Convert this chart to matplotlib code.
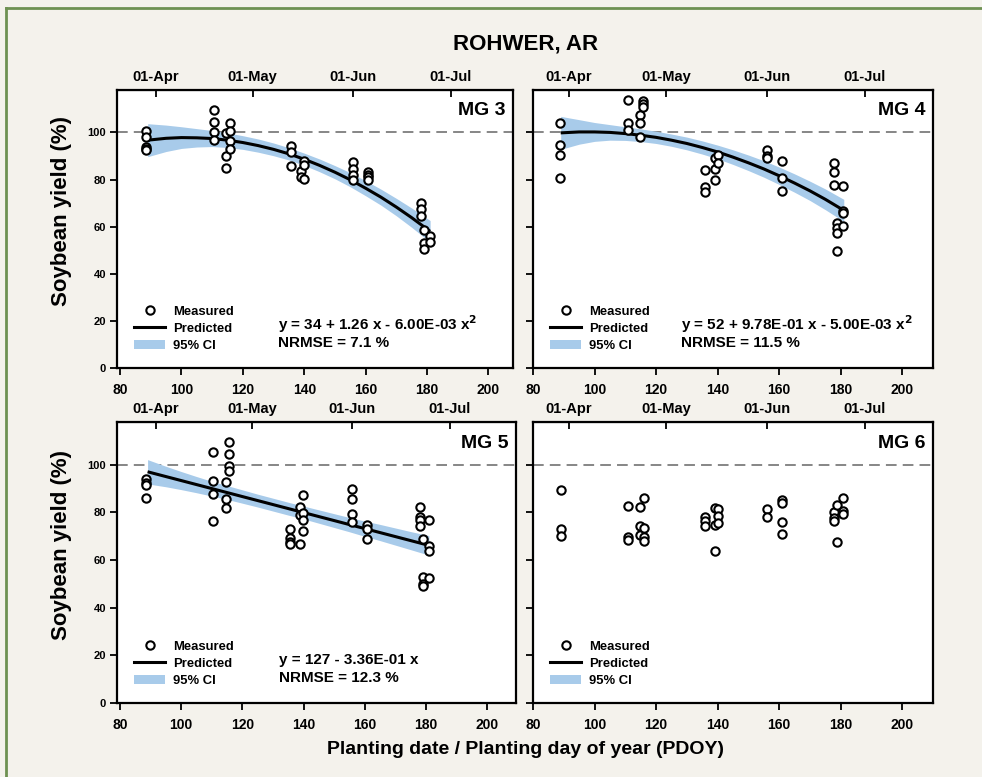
import numpy as np
import matplotlib
matplotlib.use("Agg")
import matplotlib.pyplot as plt
from matplotlib.lines import Line2D
from matplotlib.patches import Patch

plt.rcParams['font.family'] = ['Liberation Sans', 'DejaVu Sans']
plt.rcParams['font.weight'] = 'bold'
plt.rcParams['mathtext.default'] = 'bf'

# ---- données ----
date_pos = [91.7, 123.2, 156.0, 187.8]
date_labels = ['01-Apr', '01-May', '01-Jun', '01-Jul']
x_ticks = [80, 100, 120, 140, 160, 180, 200]
y_ticks = [0, 20, 40, 60, 80, 100]

# abscisses des courbes ajustées (jours)
fit_x = [89, 95, 100, 105, 110, 115, 120, 125, 130, 135, 140, 145, 150, 155, 160, 165, 170, 175, 181]

# MG 3
mg3_x = [88.4]*5 + [110.5]*4 + [114.6]*3 + [115.7]*4 + [135.6]*3 + [138.9]*2 + [139.8]*3 \
    + [156.0]*4 + [160.9]*4 + [178.0]*3 + [179.0]*3 + [180.9]*2
mg3_y = [100.8, 98.0, 94.0, 93.0, 92.6,
         109.6, 104.4, 100.1, 96.6,
         99.7, 90.0, 85.1,
         104.2, 100.4, 96.2, 93.0,
         94.3, 91.5, 85.6,
         83.5, 81.0,
         87.7, 86.0, 80.2,
         87.3, 84.4, 82.0, 79.9,
         83.2, 82.0, 80.9, 79.9,
         70.0, 67.6, 64.4,
         58.7, 53.0, 50.5,
         55.9, 53.3]
mg3_fy = [96.7, 97.5, 97.8, 97.7, 97.4, 96.7, 95.7, 94.4, 92.8, 90.9, 88.6, 86.0, 83.1, 79.9,
          76.3, 72.5, 68.3, 63.8, 58.0]
mg3_hi = [103.7, 103.1, 102.4, 101.6, 100.8, 99.8, 98.6, 97.2, 95.5, 93.5, 91.2, 88.7, 85.9,
          82.9, 79.5, 75.9, 72.0, 67.9, 62.6]
mg3_lo = [89.7, 91.9, 93.2, 93.8, 94.0, 93.6, 92.8, 91.6, 90.1, 88.3, 86.0, 83.3, 80.3, 76.9,
          73.1, 69.1, 64.6, 59.7, 53.4]

# MG 4
mg4_x = [88.9]*4 + [110.8]*3 + [114.8]*3 + [115.9]*3 + [135.9]*3 + [139.0]*3 + [140.0]*2 \
    + [156.0]*3 + [160.9]*3 + [177.7]*3 + [178.8]*4 + [180.7]*4
mg4_y = [104.0, 94.5, 90.2, 80.6,
         113.6, 104.0, 101.1,
         107.2, 104.0, 98.0,
         113.5, 112.0, 110.8,
         84.2, 76.8, 74.7,
         89.1, 84.4, 79.6,
         90.5, 87.0,
         92.4, 90.1, 89.1,
         87.7, 80.6, 75.0,
         87.0, 83.0, 77.8,
         61.5, 59.4, 57.3, 49.8,
         77.4, 66.8, 65.8, 60.1]
mg4_fy = [99.8, 100.2, 100.2, 100.0, 99.5, 98.8, 97.9, 96.7, 95.3, 93.6, 91.7, 89.5, 87.1,
          84.5, 81.6, 78.5, 75.2, 71.6, 66.9]
mg4_hi = [106.8, 105.4, 104.2, 103.3, 102.4, 101.5, 100.5, 99.3, 98.0, 96.4, 94.6, 92.6, 90.4,
          88.0, 85.3, 82.4, 79.3, 76.0, 71.6]
mg4_lo = [92.8, 95.0, 96.2, 96.7, 96.6, 96.1, 95.3, 94.1, 92.6, 90.8, 88.8, 86.4, 83.8, 81.0,
          77.9, 74.6, 71.1, 67.2, 62.2]

# MG 5
mg5_x = [88.4]*4 + [110.5]*4 + [114.6]*3 + [115.7]*4 + [135.6]*4 + [138.7]*3 + [139.8]*4 \
    + [156.0]*4 + [160.9]*3 + [178.0]*4 + [179.0]*4 + [180.9]*4
mg5_y = [94.1, 92.5, 91.5, 86.2,
         105.4, 93.2, 87.6, 76.5,
         92.7, 85.5, 81.7,
         109.4, 104.5, 99.6, 97.5,
         73.2, 69.3, 67.6, 66.9,
         82.4, 78.9, 66.8,
         87.3, 79.6, 77.0, 72.1,
         89.7, 85.5, 79.2, 76.1,
         74.6, 73.0, 69.0,
         82.4, 78.2, 77.0, 74.2,
         69.0, 52.8, 50.0, 49.3,
         77.0, 65.8, 63.8, 52.5]
mg5_fx = [89, 181]
mg5_fy = [97.1, 66.2]
mg5_hi = [102.2, 99.4, 97.2, 95.1, 93.1, 91.3, 89.5, 87.7, 86.0, 84.3, 82.7, 81.1, 79.5, 77.9,
          76.4, 75.0, 73.5, 72.0, 70.3]
mg5_lo = [92.0, 90.8, 89.6, 88.3, 86.9, 85.5, 83.9, 82.3, 80.6, 78.9, 77.3, 75.5, 73.7, 71.9,
          70.0, 68.2, 66.3, 64.4, 62.1]

# MG 6 (pas d'ajustement)
mg6_x = [89.0]*3 + [110.9]*3 + [114.9]*3 + [116.0]*4 + [135.8]*3 + [139.0]*3 + [140.0]*3 \
    + [156.1]*2 + [160.9]*4 + [177.8]*3 + [178.9]*2 + [180.8]*3
mg6_y = [89.4, 73.0, 70.0,
         82.8, 69.7, 68.3,
         82.4, 74.4, 70.7,
         85.9, 73.5, 69.7, 67.9,
         77.9, 76.3, 74.2,
         81.7, 74.9, 63.7,
         81.4, 78.6, 75.6,
         81.4, 77.9,
         85.2, 83.8, 75.8, 71.0,
         80.3, 77.5, 76.3,
         83.1, 67.6,
         85.9, 80.6, 79.2]

panels = [
    dict(name='MG 3', x=mg3_x, y=mg3_y, fx=fit_x, fy=mg3_fy, lo=mg3_lo, hi=mg3_hi,
         eq='y = 34 + 1.26 x - 6.00E-03 x$^\\mathbf{2}$', nrmse='NRMSE = 7.1 %', eqx=131.4),
    dict(name='MG 4', x=mg4_x, y=mg4_y, fx=fit_x, fy=mg4_fy, lo=mg4_lo, hi=mg4_hi,
         eq='y = 52 + 9.78E-01 x - 5.00E-03 x$^\\mathbf{2}$', nrmse='NRMSE = 11.5 %', eqx=128.1),
    dict(name='MG 5', x=mg5_x, y=mg5_y, fx=mg5_fx, fy=mg5_fy, lo=mg5_lo, hi=mg5_hi,
         eq='y = 127 - 3.36E-01 x', nrmse='NRMSE = 12.3 %', eqx=132.1),
    dict(name='MG 6', x=mg6_x, y=mg6_y),
]

ci_color = '#a8cbea'
W, H = 982, 777
fig = plt.figure(figsize=(W/100, H/100), dpi=100, facecolor='#f4f2ec')

boxes = [(117, 90, 513, 368), (533, 90, 933, 368), (117, 422, 516, 703), (533, 422, 933, 703)]
xlims = [(79, 208), (80, 210), (79, 209.5), (80, 210)]

for i, (p, b) in enumerate(zip(panels, boxes)):
    l, t, r, bt = b
    ax = fig.add_axes([l/W, 1 - bt/H, (r - l)/W, (bt - t)/H])
    ax.set_facecolor('white')
    ax.set_xlim(*xlims[i])
    ax.set_ylim(0, 118)
    ax.axhline(100, color='#666666', lw=1.1, ls=(0, (7, 4)), zorder=1)

    if 'fx' in p:
        ax.fill_between(fit_x, p['lo'], p['hi'], color=ci_color, lw=0, zorder=2)
        ax.plot(p['fx'], p['fy'], color='black', lw=2.2, zorder=3, solid_capstyle='butt')
        ax.text(p['eqx'], 16.3, p['eq'], fontsize=11, va='baseline', ha='left')
        ax.text(p['eqx'], 9.0, p['nrmse'], fontsize=11, va='baseline', ha='left')
    ax.plot(p['x'], p['y'], 'o', mfc='white', mec='black', ms=6, mew=1.5, ls='none', zorder=4)
    ax.text(0.98, 0.925, p['name'], transform=ax.transAxes, ha='right', va='center', fontsize=14)

    handles = [Line2D([], [], marker='o', ls='none', mfc='white', mec='black', ms=6, mew=1.5),
               Line2D([], [], color='black', lw=2.2),
               Patch(facecolor=ci_color, edgecolor='none')]
    ax.legend(handles, ['Measured', 'Predicted', '95% CI'], loc='lower left',
              bbox_to_anchor=(0.02, 0.025), frameon=False, fontsize=9.4,
              handlelength=2.4, handletextpad=0.6, labelspacing=0.38, borderpad=0.2)

    for s in ax.spines.values():
        s.set_linewidth(1.6)
    ax.set_xticks(x_ticks)
    ax.set_yticks(y_ticks)
    ax.tick_params(axis='x', direction='out', length=5, width=1.3, labelsize=10, pad=6)
    ax.tick_params(axis='y', direction='out', length=5, width=1.3, labelsize=8, pad=3)
    if i % 2 == 1:
        ax.tick_params(axis='y', labelleft=False)

    sec = ax.secondary_xaxis('top')
    sec.set_xticks(date_pos, date_labels)
    sec.tick_params(direction='in', length=5, width=1.3, labelsize=10.5, pad=4)

fig.text(0.535, 0.943, 'ROHWER, AR', ha='center', va='center', fontsize=16)
fig.text(0.535, 0.036, 'Planting date / Planting day of year (PDOY)', ha='center', va='center', fontsize=14)
fig.text(0.063, 0.728, 'Soybean yield (%)', rotation=90, ha='center', va='center', fontsize=16)
fig.text(0.063, 0.298, 'Soybean yield (%)', rotation=90, ha='center', va='center', fontsize=16)

# cadre vert de la diapositive
green = '#6e9152'
fig.add_artist(Line2D([6/W, 6/W], [0, 1 - 8/H], color=green, lw=2))
fig.add_artist(Line2D([6/W, 1], [1 - 8/H, 1 - 8/H], color=green, lw=2))

fig.savefig('out.png', dpi=100, facecolor=fig.get_facecolor())
